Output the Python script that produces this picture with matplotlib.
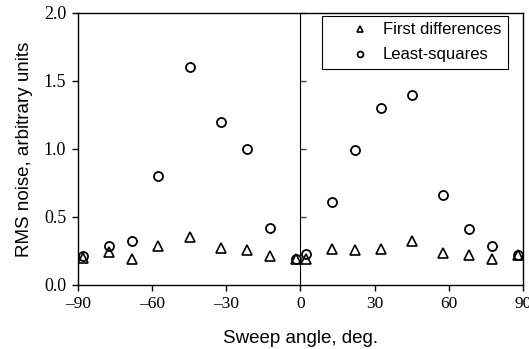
import matplotlib.pyplot as plt

# sweep angles (deg) and RMS noise values
angles = [-88, -77.3, -68.2, -57.5, -44.8, -32.3, -21.6, -12.3, -1.8,
          2.1, 12.6, 21.9, 32.6, 45.1, 57.8, 68.3, 77.6, 88.1]
first_diff = [0.20, 0.24, 0.19, 0.29, 0.355, 0.27, 0.26, 0.215, 0.19,
              0.19, 0.265, 0.26, 0.265, 0.32, 0.235, 0.22, 0.19, 0.22]
least_sq = [0.21, 0.29, 0.32, 0.80, 1.60, 1.20, 1.00, 0.42, 0.19,
            0.23, 0.61, 0.99, 1.30, 1.40, 0.66, 0.41, 0.29, 0.22]

xticks = [-90, -60, -30, 0, 30, 60, 90]
yticks = [0.0, 0.5, 1.0, 1.5, 2.0]

fig = plt.figure(figsize=(5.29, 3.49), dpi=100)
ax = fig.add_axes([0.1474, 0.1834, 0.8413, 0.7794])

ax.plot(angles, first_diff, linestyle='none', marker='^', markersize=6.5,
        markerfacecolor='none', markeredgecolor='black', markeredgewidth=1.2,
        label='First differences')
ax.plot(angles, least_sq, linestyle='none', marker='o', markersize=6.5,
        markerfacecolor='none', markeredgecolor='black', markeredgewidth=1.3,
        label='Least-squares')

ax.set_xlim(-90, 90)
ax.set_ylim(0, 2.0)
ax.set_xticks(xticks)
ax.set_yticks(yticks)
ax.set_xticklabels(['\u2013' + str(-t) if t < 0 else str(t) for t in xticks],
                   family='Liberation Serif', fontsize=12.5)
ax.set_yticklabels(['%.1f' % t for t in yticks], family='Liberation Serif', fontsize=13)
ax.tick_params(axis='x', direction='out', length=4, width=1, pad=4)
ax.tick_params(axis='y', direction='out', length=4.5, width=1, pad=4)
for s in ax.spines.values():
    s.set_linewidth(1.0)

# middle axis line at 0 deg with left-pointing ticks
mid = ax.secondary_yaxis(0.5)
mid.set_yticks(yticks[1:])
mid.set_yticklabels([])
mid.tick_params(direction='out', length=4, width=1, colors='#444444')
mid.spines['left'].set_color('#444444')
mid.spines['left'].set_linewidth(1.4)

ax.set_xlabel('Sweep angle, deg.', family='Liberation Sans', fontsize=13.5, labelpad=13)
ax.set_ylabel('RMS noise, arbitrary units', family='Liberation Sans', fontsize=13.5, labelpad=8)

leg = ax.legend(loc='upper right', bbox_to_anchor=(0.966, 0.99), borderaxespad=0,
                fancybox=False, edgecolor='black', framealpha=1, markerscale=0.65,
                handlelength=3.8, handletextpad=-0.55, borderpad=0.4, labelspacing=0.6,
                prop={'family': 'Liberation Sans', 'size': 12})
leg.get_frame().set_linewidth(0.8)

fig.savefig('out.png', dpi=100)
